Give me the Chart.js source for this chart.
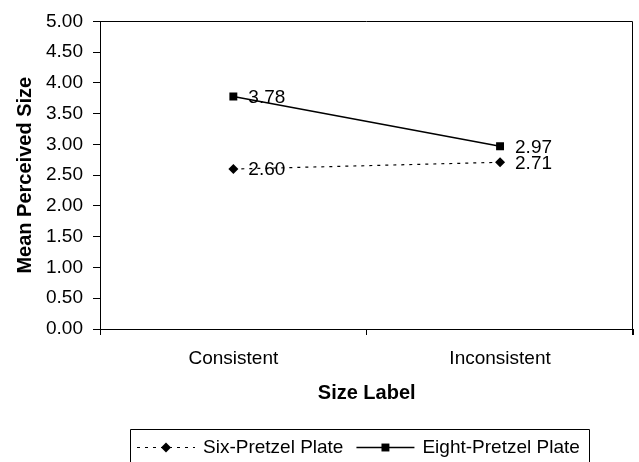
<!DOCTYPE html>
<html>
<head>
<meta charset="utf-8">
<script src="https://cdn.jsdelivr.net/npm/chart.js@4/dist/chart.umd.min.js"></script>
<style>
  html, body { margin: 0; padding: 0; background: #fff; }
  #wrap { width: 639px; height: 462px; }
</style>
</head>
<body>
<div id="wrap"><canvas id="c" width="639" height="462"></canvas></div>
<script>
// Mean perceived size by size label, per plate condition
const categories = ['Consistent', 'Inconsistent'];
const sixPretzel = [2.60, 2.71];
const eightPretzel = [3.78, 2.97];
const seriesNames = ['Six-Pretzel Plate', 'Eight-Pretzel Plate'];
const yTicks = { min: 0, max: 5, step: 0.5 };
const yTitle = 'Mean Perceived Size';
const xTitle = 'Size Label';

const FONT = "'Liberation Sans', Arial, Helvetica, sans-serif";
const INK = '#000';

// Frame around the plot area (top and right edges; axes draw left/bottom)
const frame = {
  id: 'frame',
  beforeDatasetsDraw(chart) {
    const { ctx, chartArea: a } = chart;
    ctx.save();
    ctx.strokeStyle = INK;
    ctx.lineWidth = 1;
    ctx.beginPath();
    ctx.moveTo(Math.round(a.left) + 0.5, Math.round(a.top) + 0.5);
    ctx.lineTo(Math.round(a.right) - 0.5, Math.round(a.top) + 0.5);
    ctx.lineTo(Math.round(a.right) - 0.5, Math.round(a.bottom) + 6);
    ctx.stroke();
    ctx.restore();
  }
};

// Value labels to the right of each point
const valueLabels = {
  id: 'valueLabels',
  afterDatasetsDraw(chart) {
    const { ctx } = chart;
    ctx.save();
    ctx.font = '19px ' + FONT;
    ctx.fillStyle = INK;
    ctx.textAlign = 'left';
    ctx.textBaseline = 'middle';
    chart.data.datasets.forEach((ds, i) => {
      chart.getDatasetMeta(i).data.forEach((pt, j) => {
        ctx.fillText(ds.data[j].toFixed(2), pt.x + 15, pt.y + 1);
      });
    });
    ctx.restore();
  }
};

// Boxed legend with line-and-marker samples
const boxLegend = {
  id: 'boxLegend',
  afterDraw(chart) {
    const { ctx } = chart;
    const left = 130, top = 429, cy = 447, sampleW = 58;
    ctx.save();
    ctx.font = '19px ' + FONT;
    ctx.textBaseline = 'middle';
    ctx.textAlign = 'left';
    let x = left + 7;
    chart.data.datasets.forEach((ds, i) => {
      ctx.strokeStyle = INK;
      ctx.lineWidth = ds.borderWidth;
      ctx.setLineDash(ds.borderDash || []);
      ctx.beginPath();
      ctx.moveTo(x, cy + 0.5);
      ctx.lineTo(x + sampleW, cy + 0.5);
      ctx.stroke();
      ctx.setLineDash([]);
      ctx.fillStyle = INK;
      Chart.helpers.drawPoint(ctx, {
        pointStyle: ds.pointStyle,
        radius: ds.pointRadius,
        borderWidth: 0
      }, x + sampleW / 2, cy + 0.5);
      x += sampleW + 8;
      ctx.fillStyle = INK;
      ctx.fillText(ds.label, x, cy + 1);
      x += ctx.measureText(ds.label).width + 13;
    });
    const right = x - 13 + 9;
    ctx.strokeStyle = INK;
    ctx.lineWidth = 1;
    ctx.beginPath();
    ctx.moveTo(left + 0.5, 470);
    ctx.lineTo(left + 0.5, top + 0.5);
    ctx.lineTo(Math.round(right) + 0.5, top + 0.5);
    ctx.lineTo(Math.round(right) + 0.5, 470);
    ctx.stroke();
    ctx.restore();
  }
};

new Chart(document.getElementById('c'), {
  type: 'line',
  data: {
    labels: categories,
    datasets: [
      {
        label: seriesNames[0],
        data: sixPretzel,
        borderColor: INK,
        backgroundColor: INK,
        borderWidth: 1.2,
        borderDash: [3, 5],
        pointStyle: 'rectRot',
        pointRadius: 5,
        pointBorderWidth: 0,
        pointBackgroundColor: INK,
        tension: 0,
        fill: false
      },
      {
        label: seriesNames[1],
        data: eightPretzel,
        borderColor: INK,
        backgroundColor: INK,
        borderWidth: 1.5,
        pointStyle: 'rect',
        pointRadius: 5.6,
        pointBorderWidth: 0,
        pointBackgroundColor: INK,
        tension: 0,
        fill: false
      }
    ]
  },
  options: {
    responsive: false,
    animation: false,
    devicePixelRatio: 1,
    layout: { padding: { left: 0, top: 20, right: 1, bottom: 43 } },
    plugins: {
      legend: { display: false },
      tooltip: { enabled: false }
    },
    scales: {
      x: {
        type: 'category',
        offset: true,
        grid: {
          offset: true,
          drawOnChartArea: false,
          tickLength: 6,
          color: INK,
          lineWidth: 1
        },
        border: { color: INK, width: 1 },
        ticks: {
          color: INK,
          font: { family: FONT, size: 19 },
          padding: 12,
          maxRotation: 0
        },
        title: {
          display: true,
          text: xTitle,
          color: INK,
          font: { family: FONT, size: 20, weight: 'bold' },
          padding: { top: 0, bottom: 14 }
        },
        afterFit(s) { s.height = 90; }
      },
      y: {
        min: yTicks.min,
        max: yTicks.max,
        grid: {
          drawOnChartArea: false,
          tickLength: 7,
          color: INK,
          lineWidth: 1
        },
        border: { color: INK, width: 1 },
        ticks: {
          stepSize: yTicks.step,
          color: INK,
          font: { family: FONT, size: 19 },
          padding: 10,
          callback: v => Number(v).toFixed(2)
        },
        title: {
          display: true,
          text: yTitle,
          color: INK,
          font: { family: FONT, size: 20, weight: 'bold' },
          padding: { top: 13, bottom: 0 }
        },
        afterFit(s) { s.width = 100; }
      }
    }
  },
  plugins: [frame, valueLabels, boxLegend]
});
</script>
</body>
</html>
